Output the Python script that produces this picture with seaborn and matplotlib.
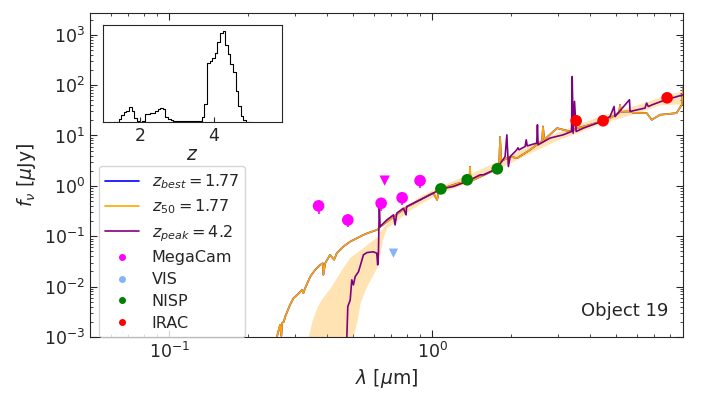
import numpy as np
import matplotlib
matplotlib.use('Agg')
import matplotlib.pyplot as plt
from matplotlib.lines import Line2D
from matplotlib.ticker import LogLocator, NullFormatter, FixedLocator
import seaborn as sns

# model SED for z_best / z_50 (same template, z = 1.77)
wl_z50 = [0.257, 0.264, 0.267, 0.269, 0.273, 0.276, 0.288, 0.297, 0.307, 0.320,
          0.324, 0.329, 0.344, 0.359, 0.375, 0.384, 0.386, 0.392, 0.409, 0.424,
          0.434, 0.459, 0.488, 0.517, 0.547, 0.581, 0.618, 0.634, 0.711, 0.803,
          0.900, 1.009, 1.045, 1.06, 1.140, 1.277, 1.358, 1.385, 1.394, 1.40, 1.523,
          1.766, 1.80, 1.814, 1.83, 1.981, 2.104, 2.359, 2.62, 2.64, 2.67, 2.986,
          3.348, 3.56, 3.988, 4.467, 4.75, 5.14, 5.186, 5.23, 5.662, 5.808,
          6.55, 6.84, 7.17, 7.362, 8.5, 8.9, 9.05]
fnu_z50 = [0.00101, 0.00173, 0.00105, 0.0019, 0.0020, 0.0025, 0.0043, 0.0059, 0.0068, 0.0086,
           0.0074, 0.0093, 0.0158, 0.0214, 0.0269, 0.029, 0.0171, 0.029, 0.0426, 0.034,
           0.046, 0.062, 0.078, 0.091, 0.106, 0.12, 0.134, 0.153, 0.242, 0.383,
           0.527, 0.726, 0.527, 0.76, 0.955, 1.148, 1.20, 1.22, 2.39, 1.25, 1.51,
           2.18, 2.9, 9.42, 3.1, 3.8, 3.55, 5.19, 7.84, 15.1, 8.2, 14.0,
           12.0, 14.0, 16.3, 19.6, 22.2, 28.2, 40.7, 29.5, 30.0, 28.2,
           27.8, 20.5, 23.7, 25.8, 27.8, 40.7, 101]

# model SED for z_peak = 4.2
wl_peak = [0.474, 0.478, 0.488, 0.495, 0.502, 0.510, 0.525, 0.532, 0.548, 0.565,
           0.598, 0.616, 0.621, 0.625, 0.630, 0.634, 0.673, 0.713, 0.723, 0.734,
           0.778, 0.796, 0.80, 0.90, 1.011, 1.073, 1.205, 1.355, 1.523, 1.567,
           1.763, 1.895, 1.924, 1.95, 1.981, 2.10, 2.12, 2.14, 2.258, 2.28,
           2.30, 2.50, 2.515, 2.53, 2.81, 3.15, 3.39, 3.41, 3.44, 3.48,
           3.53, 3.76, 4.24, 4.75, 4.92, 4.96, 5.63, 5.66, 6.45, 6.54, 6.64,
           6.87, 7.55, 9.0]
fnu_peak = [0.001, 0.0040, 0.0054, 0.0136, 0.0108, 0.0158, 0.0198, 0.0249, 0.0426, 0.0473,
            0.049, 0.046, 0.027, 0.046, 0.44, 0.155, 0.211, 0.265, 0.168, 0.287,
            0.36, 0.265, 0.388, 0.527, 0.716, 0.86, 0.97, 1.22, 1.655, 1.655,
            2.18, 3.82, 10.3, 2.42, 3.82, 5.19, 5.69, 5.2, 6.04, 8.2,
            6.2, 7.07, 16.3, 6.53, 8.9, 10.3, 12.0, 148, 11.1, 47.5,
            12.0, 14.0, 17.6, 23.7, 37.6, 23.7, 51.2, 30.0, 35.0, 44.0, 37.6,
            40.7, 48.9, 64.3]

# z_50 uncertainty band
band_wl = [0.3377, 0.350, 0.365, 0.382, 0.4095, 0.435, 0.459, 0.488, 0.501, 0.519,
           0.532, 0.556, 0.581, 0.618, 0.634, 0.645, 0.657, 0.674, 0.723, 0.803,
           0.900, 1.073, 1.394, 1.814, 2.358, 3.067, 3.654, 4.353, 5.186, 6.178,
           7.36, 9.0]
band_hi = [0.001, 0.00218, 0.00394, 0.00595, 0.0094, 0.0156, 0.0246, 0.0388, 0.0426, 0.0489,
           0.0535, 0.064, 0.077, 0.097, 0.13, 0.14, 0.16, 0.185, 0.278, 0.419,
           0.632, 1.0, 1.73, 3.29, 6.53, 12.4, 17.1, 24.6, 32.4, 42.6,
           58.7, 77.5]
band_lo = [1e-4, 1e-4, 1e-4, 1e-4, 1e-4, 1e-4, 1e-4, 1e-4, 0.001, 0.00218,
           0.0047, 0.0086, 0.0136, 0.0246, 0.046, 0.075, 0.11, 0.15, 0.193, 0.304,
           0.439, 0.726, 1.20, 2.28, 4.53, 8.59, 11.8, 17.1, 22.4, 29.5,
           40.7, 42.6]

# photometry
megacam_wl = [0.37, 0.478, 0.64, 0.769, 0.90]
megacam_fnu = [0.40, 0.21, 0.45, 0.58, 1.27]
megacam_err = [0.12, 0.06, 0.13, 0.16, 0.35]
megacam_lim_wl = [0.66]
megacam_lim_fnu = [1.27]
vis_wl = [0.713]
vis_fnu = [0.046]
nisp_wl = [1.08, 1.36, 1.77]
nisp_fnu = [0.87, 1.32, 2.18]
irac_wl = [3.53, 4.47, 7.83]
irac_fnu = [19.6, 19.6, 56.0]

# P(z) inset
z_grid = [1.325, 1.395, 1.465, 1.535, 1.605, 1.675, 1.745, 1.815, 1.885, 1.955,
          2.025, 2.095, 2.165, 2.235, 2.305, 2.375, 2.445, 2.515, 2.585, 2.655,
          2.725, 2.795, 2.865, 2.935, 3.005, 3.075, 3.145, 3.215, 3.285, 3.355,
          3.425, 3.495, 3.565, 3.635, 3.705, 3.775, 3.845, 3.915, 3.985, 4.055,
          4.125, 4.195, 4.265, 4.335, 4.405, 4.475, 4.545, 4.615, 4.685, 4.755,
          4.825, 4.895, 4.965]
pz = [0.005, 0.01, 0.04, 0.08, 0.11, 0.13, 0.17, 0.12, 0.05, 0.02,
      0.01, 0.02, 0.09, 0.09, 0.10, 0.10, 0.13, 0.15, 0.16, 0.15,
      0.06, 0.035, 0.025, 0.02, 0.016, 0.015, 0.013, 0.012, 0.012, 0.012,
      0.012, 0.013, 0.016, 0.02, 0.06, 0.20, 0.65, 0.67, 0.70, 0.76,
      0.88, 0.98, 1.0, 0.85, 0.75, 0.64, 0.55, 0.34, 0.18, 0.07,
      0.025, 0.008, 0.002]

VIS_COLOR = '#84b4f8'

sns.set_style('ticks')
plt.rcParams['font.family'] = ['DejaVu Sans']

fig = plt.figure(figsize=(7.03, 3.95), dpi=100)
ax = fig.add_axes([0.128, 0.147, 0.8436, 0.82])

ax.fill_between(band_wl, band_lo, band_hi, color='orange', alpha=0.3, lw=0, zorder=1)
sns.lineplot(x=wl_z50, y=fnu_z50, color='blue', lw=1.2, sort=False, estimator=None, ax=ax, zorder=2)
sns.lineplot(x=wl_z50, y=fnu_z50, color='orange', lw=1.2, sort=False, estimator=None, ax=ax, zorder=3)
sns.lineplot(x=wl_peak, y=fnu_peak, color='purple', lw=1.2, sort=False, estimator=None, ax=ax, zorder=4)

ax.errorbar(megacam_wl, megacam_fnu, yerr=megacam_err, fmt='none', ecolor='magenta', elinewidth=1.2, zorder=5)
sns.scatterplot(x=megacam_wl, y=megacam_fnu, color='magenta', s=70, edgecolor='none', ax=ax, zorder=6)
sns.scatterplot(x=megacam_lim_wl, y=megacam_lim_fnu, color='magenta', marker='v', s=55, edgecolor='none', ax=ax, zorder=6)
sns.scatterplot(x=vis_wl, y=vis_fnu, color=VIS_COLOR, marker='v', s=45, edgecolor='none', ax=ax, zorder=6)
sns.scatterplot(x=nisp_wl, y=nisp_fnu, color='green', s=70, edgecolor='none', ax=ax, zorder=6)
sns.scatterplot(x=irac_wl, y=irac_fnu, color='red', s=70, edgecolor='none', ax=ax, zorder=6)

ax.set_xscale('log')
ax.set_yscale('log')
ax.set_xlim(0.05, 9.0)
ax.set_ylim(1e-3, 2.7e3)
ax.xaxis.set_major_locator(FixedLocator([0.1, 1.0]))
ax.yaxis.set_major_locator(LogLocator(base=10, numticks=20))
ax.yaxis.set_minor_locator(LogLocator(base=10, subs=np.arange(2, 10), numticks=100))
ax.yaxis.set_minor_formatter(NullFormatter())
ax.xaxis.set_minor_locator(LogLocator(base=10, subs=np.arange(2, 10), numticks=100))
ax.xaxis.set_minor_formatter(NullFormatter())
ax.tick_params(which='both', direction='in', top=True, right=True, labelsize=12.5)
ax.tick_params(which='major', length=5)
ax.tick_params(which='minor', length=2.5)

ax.set_xlabel(r'$\lambda$ [$\mu$m]', fontsize=13.5)
ax.set_ylabel(r'$f_\nu$ [$\mu$Jy]', fontsize=13.5)
ax.text(0.976, 0.08, 'Object 19', transform=ax.transAxes, ha='right', va='center', fontsize=13)

handles = [
    Line2D([], [], color='blue', lw=1.2, label=r'$z_{best} = 1.77$'),
    Line2D([], [], color='orange', lw=1.2, label=r'$z_{50} = 1.77$'),
    Line2D([], [], color='purple', lw=1.2, label=r'$z_{peak} = 4.2$'),
    Line2D([], [], color='magenta', marker='o', ls='', ms=4, label='MegaCam'),
    Line2D([], [], color=VIS_COLOR, marker='o', ls='', ms=4, label='VIS'),
    Line2D([], [], color='green', marker='o', ls='', ms=4, label='NISP'),
    Line2D([], [], color='red', marker='o', ls='', ms=4, label='IRAC'),
]
ax.legend(handles=handles, loc='lower left', bbox_to_anchor=(0.015, 0.0), borderaxespad=0,
          fontsize=11.5, frameon=True, handlelength=2.1, labelspacing=0.42,
          borderpad=0.4)

# P(z) inset
axins = fig.add_axes([0.146, 0.690, 0.255, 0.246])
sns.histplot(x=z_grid, weights=pz, binwidth=0.07, binrange=(1.29, 5.0), element='step',
             fill=False, color='black', lw=0.8, ax=axins)
axins.set_xlim(1.0, 5.83)
axins.set_ylim(0, 1.06)
axins.set_yticks([])
axins.set_ylabel('')
axins.set_xticks([2, 4])
axins.tick_params(direction='in', labelsize=12.5)
axins.set_xlabel(r'$z$', fontsize=13.5, labelpad=0)

fig.savefig('out.png', dpi=100)
